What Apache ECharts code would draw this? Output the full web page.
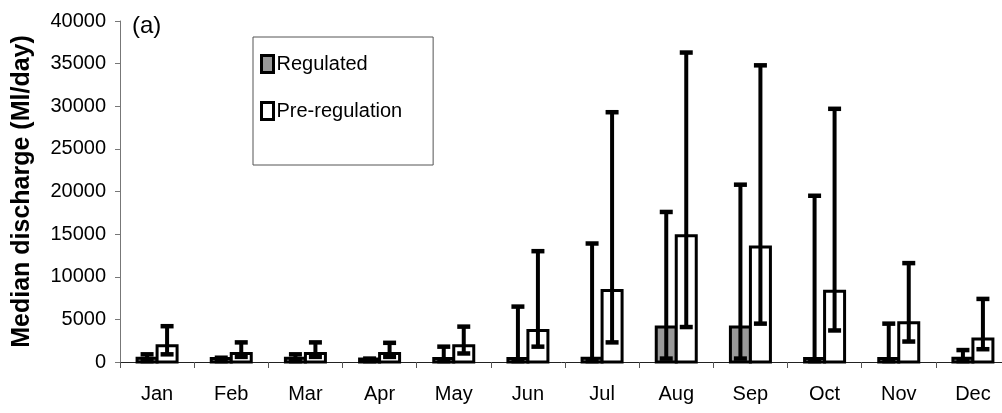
<!DOCTYPE html>
<html><head><meta charset="utf-8">
<script src="https://cdn.jsdelivr.net/npm/echarts@6/dist/echarts.min.js"></script>
<style>html,body{margin:0;padding:0;background:#fff}#c{width:1002px;height:413px}</style>
</head><body><div id="c"></div>
<script>
const months = ['Jan','Feb','Mar','Apr','May','Jun','Jul','Aug','Sep','Oct','Nov','Dec'];
const regulatedMedian = [450, 400, 450, 350, 400, 400, 450, 4100, 4100, 400, 400, 450];
const regulatedLow    = [100, 100, 100, 100, 100, 100, 100, 400, 400, 100, 100, 100];
const regulatedHigh   = [900, 500, 900, 400, 1800, 6500, 13900, 17600, 20800, 19500, 4500, 1400];
const preMedian = [1900, 1000, 1000, 1000, 1900, 3700, 8400, 14800, 13500, 8300, 4600, 2700];
const preLow    = [900, 600, 600, 600, 1000, 1800, 2300, 4100, 4500, 3700, 2400, 1500];
const preHigh   = [4200, 2300, 2300, 2250, 4150, 13000, 29300, 36300, 34800, 29700, 11600, 7400];
const yMin = 0, yMax = 40000, yStep = 5000;
const seriesNames = ['Regulated', 'Pre-regulation'];
const fills = ['#999999', '#ffffff'];

const FONT = "'Liberation Sans', Arial, sans-serif";

function barSeries(name, values, fill, side) {
  return {
    name: name,
    type: 'custom',
    clip: false,
    z: 3,
    itemStyle: { color: fill, borderColor: '#000', borderWidth: 3 },
    data: values.map((v, i) => [i, v]),
    encode: { x: 0, y: 1 },
    renderItem: function (params, api) {
      const i = api.value(0);
      const top = api.coord([i, api.value(1)]);
      const base = api.coord([i, 0]);
      const w = 20;
      const x = side < 0 ? top[0] - w : top[0];
      return {
        type: 'rect',
        shape: { x: x, y: top[1], width: w, height: base[1] - top[1] },
        style: { fill: fill, stroke: '#000', lineWidth: 3 }
      };
    }
  };
}

function errorSeries(low, high, offset) {
  return {
    type: 'custom',
    silent: true,
    clip: false,
    z: 5,
    data: months.map((m, i) => [i, low[i], high[i]]),
    encode: { x: 0, y: [1, 2] },
    renderItem: function (params, api) {
      const i = api.value(0);
      const lo = api.coord([i, api.value(1)]);
      const hi = api.coord([i, api.value(2)]);
      const x = lo[0] + offset;
      const c = 6.5;
      return {
        type: 'group',
        children: [
          { type: 'line', shape: { x1: x, y1: lo[1], x2: x, y2: hi[1] }, style: { stroke: '#000', lineWidth: 4 } },
          { type: 'line', shape: { x1: x - c, y1: hi[1], x2: x + c, y2: hi[1] }, style: { stroke: '#000', lineWidth: 4.5 } },
          { type: 'line', shape: { x1: x - c, y1: lo[1], x2: x + c, y2: lo[1] }, style: { stroke: '#000', lineWidth: 4.5 } }
        ]
      };
    }
  };
}

const chart = echarts.init(document.getElementById('c'), null, { renderer: 'canvas' });
chart.setOption({
  animation: false,
  backgroundColor: '#fff',
  textStyle: { fontFamily: FONT },
  title: {
    text: '(a)', left: 132, top: 14, padding: 0,
    textStyle: { fontSize: 24, fontWeight: 'normal', color: '#000', fontFamily: FONT }
  },
  legend: {
    data: seriesNames.map((n, k) => ({
      name: n, icon: 'rect',
      itemStyle: { color: fills[k], borderColor: '#000', borderWidth: 3 }
    })),
    orient: 'vertical',
    left: 253, top: 37,
    padding: [17, 31, 44, 7],
    itemGap: 27,
    itemWidth: 12, itemHeight: 17,
    borderColor: '#555', borderWidth: 1,
    backgroundColor: '#fff',
    selectedMode: false,
    textStyle: { fontSize: 20, color: '#000', fontFamily: FONT, padding: [5, 0, 0, -2] }
  },
  grid: { left: 120, right: -8, top: 21, bottom: 51, outerBoundsMode: 'none', containLabel: false },
  xAxis: {
    type: 'category',
    data: months,
    boundaryGap: true,
    axisLine: { lineStyle: { color: '#222', width: 1 } },
    axisTick: { show: true, length: 6, lineStyle: { color: '#555' } },
    axisLabel: { fontSize: 20, color: '#000', margin: 22, fontFamily: FONT, interval: 0 },
    splitLine: { show: false }
  },
  yAxis: {
    type: 'value',
    min: yMin, max: yMax, interval: yStep,
    name: 'Median discharge (Ml/day)',
    nameLocation: 'middle',
    nameGap: 85,
    nameRotate: 90,
    nameTextStyle: { fontSize: 25, fontWeight: 'bold', color: '#000', fontFamily: FONT },
    axisLine: { show: true, lineStyle: { color: '#777', width: 1 } },
    axisTick: { show: true, length: 5, inside: false, lineStyle: { color: '#777' } },
    axisLabel: { fontSize: 20, color: '#000', margin: 14, fontFamily: FONT, formatter: function (v) { return String(v); } },
    splitLine: { show: false }
  },
  series: [
    barSeries(seriesNames[0], regulatedMedian, fills[0], -1),
    barSeries(seriesNames[1], preMedian, fills[1], 1),
    errorSeries(regulatedLow, regulatedHigh, -10),
    errorSeries(preLow, preHigh, 10)
  ]
});
</script>
</body></html>
